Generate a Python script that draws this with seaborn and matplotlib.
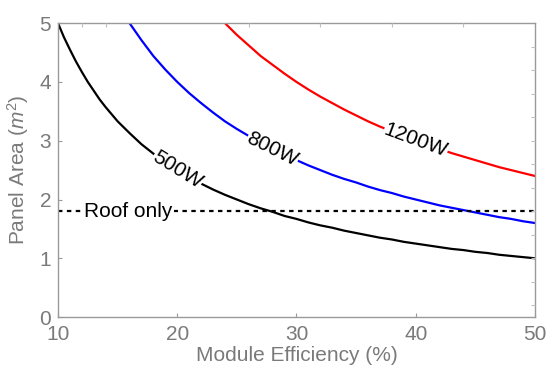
import numpy as np
import pandas as pd
import matplotlib
matplotlib.use("Agg")
import matplotlib.pyplot as plt
import seaborn as sns

# ---- data ----
eff_500 = [10, 10.5, 11, 11.5, 12, 12.5, 13, 13.5, 14, 15, 16, 17, 18, 19, 20,
           21, 22, 23, 24, 25, 26, 27, 28, 29, 30, 31, 32, 33, 34, 35, 36, 37,
           38, 39, 40, 41, 42, 43, 44, 45, 46, 47, 48, 49, 50]
area_500 = [5.00, 4.76, 4.55, 4.35, 4.17, 4.00, 3.85, 3.70, 3.57, 3.33, 3.13,
            2.94, 2.78, 2.63, 2.50, 2.38, 2.27, 2.17, 2.08, 2.00, 1.92, 1.85,
            1.79, 1.72, 1.67, 1.61, 1.56, 1.52, 1.47, 1.43, 1.39, 1.35, 1.32,
            1.28, 1.25, 1.22, 1.19, 1.16, 1.14, 1.11, 1.09, 1.06, 1.04, 1.02,
            1.00]
eff_800 = list(range(16, 51))
area_800 = [5.00, 4.71, 4.44, 4.21, 4.00, 3.81, 3.64, 3.48, 3.33, 3.20, 3.08,
            2.96, 2.86, 2.76, 2.67, 2.58, 2.50, 2.42, 2.35, 2.29, 2.22, 2.16,
            2.11, 2.05, 2.00, 1.95, 1.90, 1.86, 1.82, 1.78, 1.74, 1.70, 1.67,
            1.63, 1.60]
eff_1200 = list(range(24, 51))
area_1200 = [5.00, 4.80, 4.62, 4.44, 4.29, 4.14, 4.00, 3.87, 3.75, 3.64, 3.53,
             3.43, 3.33, 3.24, 3.16, 3.08, 3.00, 2.93, 2.86, 2.79, 2.73, 2.67,
             2.61, 2.55, 2.50, 2.45, 2.40]
series_names = ["500W", "800W", "1200W"]
series_colors = ["black", "blue", "red"]
label_eff = [20, 28, 40]
roof_area = 1.8
roof_label = "Roof only"
x_ticks = [10, 20, 30, 40, 50]
y_ticks = [0, 1, 2, 3, 4, 5]

sns.set_style("white")
plt.rcParams["font.family"] = ["Liberation Sans", "DejaVu Sans"]
plt.rcParams["mathtext.fontset"] = "custom"
plt.rcParams["mathtext.rm"] = "Liberation Sans"
plt.rcParams["mathtext.it"] = "Liberation Sans:italic"

grey = "#7a7a7a"
spine_grey = "#9a9a9a"
FS = 15

fig = plt.figure(figsize=(5.47, 3.67), dpi=100)
ax = fig.add_axes([0.106, 0.136, 0.872, 0.801])

effs = [eff_500, eff_800, eff_1200]
areas = [area_500, area_800, area_1200]
for e, a, name, c in zip(effs, areas, series_names, series_colors):
    df = pd.DataFrame({"eff": e, "area": a})
    sns.lineplot(data=df, x="eff", y="area", color=c, lw=1.6, ax=ax,
                 sort=False, zorder=2)

# roof line
ax.axhline(roof_area, color="black", lw=1.6, ls=(0, (2.0, 2.0)), zorder=2)

ax.set_xlim(10, 50)
ax.set_ylim(0, 5)
ax.set_xticks(x_ticks)
ax.set_yticks(y_ticks)
ax.set_xlabel("Module Efficiency (%)", fontsize=FS, color=grey, labelpad=1)
ax.set_ylabel(r"Panel Area ($m^2$)", fontsize=FS, color=grey, labelpad=6)
ax.tick_params(axis="x", pad=6)
ax.tick_params(axis="y", pad=5)
ax.tick_params(axis="both", direction="in", length=3, color=spine_grey,
               labelcolor=grey, labelsize=FS)
for s in ax.spines.values():
    s.set_color(spine_grey)
    s.set_linewidth(1.0)
    s.set_visible(True)

# minor mirrored ticks like the reference
ax_top = ax.twiny()
ax_top.set_xlim(10, 50)
ax_top.set_xticks([12, 14, 26, 32, 38, 44])
ax_top.tick_params(axis="x", direction="in", length=3, color="#c0c0c0",
                   labeltop=False)
ax_r = ax.twinx()
ax_r.set_ylim(0, 5)
ax_r.set_yticks([0.2, 0.6, 1.0, 1.4, 1.8, 2.2, 2.6, 3.0, 3.4, 3.8, 4.2, 4.6])
ax_r.tick_params(axis="y", direction="in", length=3, color="#c0c0c0",
                 labelright=False)
for a_ in (ax_top, ax_r):
    for s in a_.spines.values():
        s.set_visible(False)

fig.canvas.draw()
# inline labels along the curves
for e, a, name, le in zip(effs, areas, series_names, label_eff):
    i = e.index(le)
    p0 = ax.transData.transform((e[i - 1], a[i - 1]))
    p1 = ax.transData.transform((e[i + 1], a[i + 1]))
    ang = np.degrees(np.arctan2(p1[1] - p0[1], p1[0] - p0[0]))
    ax.text(e[i], a[i], name, fontsize=FS, color="black", rotation=ang,
            rotation_mode="anchor", ha="center", va="center", zorder=5,
            bbox=dict(boxstyle="square,pad=0.02", fc="white", ec="none"))

ax.text(15.9, roof_area, roof_label, fontsize=FS, color="black",
        ha="center", va="center", zorder=5,
        bbox=dict(boxstyle="square,pad=0.08", fc="white", ec="none"))

fig.savefig("out.png", dpi=100)
